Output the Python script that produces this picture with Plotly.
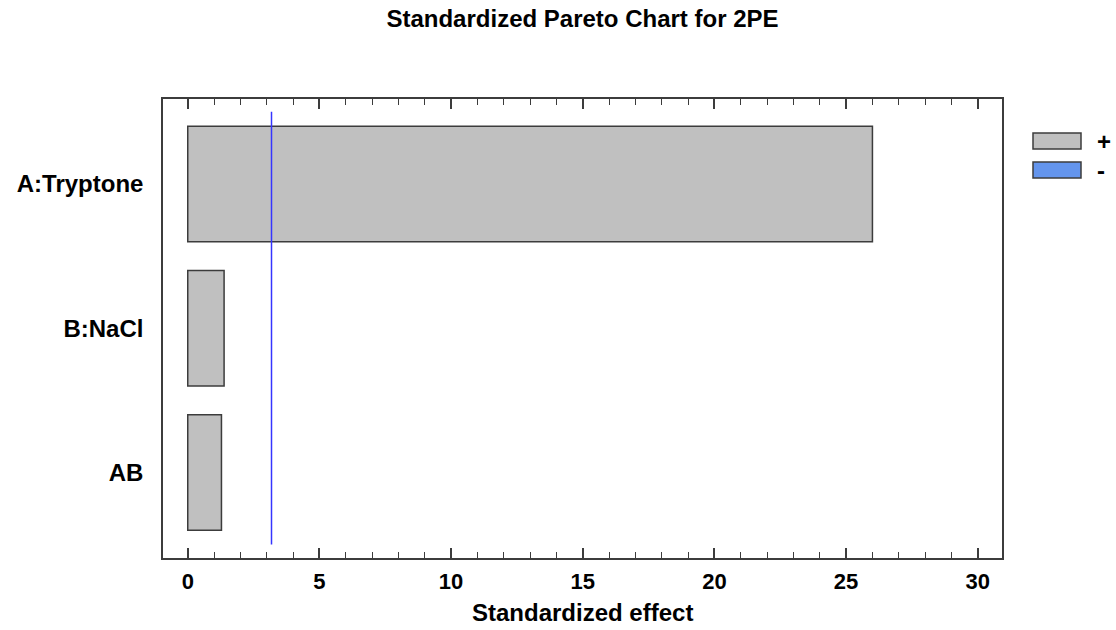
import plotly.graph_objects as go

# Standardized effects of the fitted model terms
terms = ["A:Tryptone", "B:NaCl", "AB"]
effects = [26.0, 1.38, 1.28]
t_critical = 3.18  # significance line (alpha = 0.05)

# Terms listed bottom-to-top on the category axis
axis_order = ["AB", "B:NaCl", "A:Tryptone"]

legend_labels = ["+", "-"]
legend_colors = ["#C0C0C0", "#6495ED"]

W, H = 1116, 630
L, R, T, B = 163, 1002, 99, 558  # plot frame in pixels
FONT = "Liberation Sans, Arial, sans-serif"
EDGE = "#3c3c3c"

pos_terms = [t for t, e in zip(terms, effects) if e >= 0]
pos_vals = [abs(e) for e in effects if e >= 0]
neg_terms = [t for t, e in zip(terms, effects) if e < 0]
neg_vals = [abs(e) for e in effects if e < 0]

fig = go.Figure()
fig.add_trace(go.Bar(
    x=pos_vals, y=pos_terms, orientation="h", name=legend_labels[0],
    width=0.8, marker=dict(color=legend_colors[0], line=dict(color=EDGE, width=1.5)),
    showlegend=False,
))
fig.add_trace(go.Bar(
    x=neg_vals, y=neg_terms, orientation="h", name=legend_labels[1],
    width=0.8, marker=dict(color=legend_colors[1], line=dict(color=EDGE, width=1.5)),
    showlegend=False,
))

# critical value line
fig.add_shape(type="line", xref="x", yref="y", x0=t_critical, x1=t_critical,
              y0=-0.5, y1=2.5, line=dict(color="#3535ff", width=1.5))


def px_x(p):
    return (p - L) / (R - L)


def px_y(p):
    return (B - p) / (B - T)


# hand-drawn legend with wide swatches
legend_rows = [(133, 149), (162, 178)]
for (y0, y1), lab, col in zip(legend_rows, legend_labels, legend_colors):
    fig.add_shape(type="rect", xref="paper", yref="paper",
                  x0=px_x(1033), x1=px_x(1081), y0=px_y(y1), y1=px_y(y0),
                  fillcolor=col, line=dict(color=EDGE, width=1.5))
    fig.add_annotation(xref="paper", yref="paper", x=px_x(1095), y=px_y((y0 + y1) / 2),
                       text=lab, showarrow=False, xanchor="left", yanchor="middle",
                       font=dict(family=FONT, size=24, color="black", weight="bold"))

# x-axis title
fig.add_annotation(xref="paper", yref="paper", x=0.5, y=px_y(612),
                   text="Standardized effect", showarrow=False,
                   xanchor="center", yanchor="middle",
                   font=dict(family=FONT, size=24, color="black", weight="bold"))

fig.update_layout(
    width=W, height=H,
    margin=dict(l=L, r=W - R, t=T, b=H - B, pad=0),
    paper_bgcolor="white", plot_bgcolor="white",
    barmode="overlay",
    title=dict(text="Standardized Pareto Chart for 2PE", x=0.5, xref="paper",
               y=1 - 19 / H, yref="container", xanchor="center", yanchor="middle",
               font=dict(family=FONT, size=24, color="black", weight="bold")),
    font=dict(family=FONT, color="black"),
)

fig.update_xaxes(
    range=[-0.94, 30.92], tickmode="array", tickvals=[0, 5, 10, 15, 20, 25, 30],
    ticks="inside", ticklen=10, tickwidth=1.5, tickcolor=EDGE,
    minor=dict(dtick=1, ticks="inside", ticklen=6, tickwidth=1.2, tickcolor=EDGE),
    showline=True, linecolor=EDGE, linewidth=1.5, mirror="ticks",
    showgrid=False, zeroline=False,
    tickfont=dict(family=FONT, size=22, color="black", weight="bold"),
    ticklabelstandoff=3,
)
fig.update_yaxes(
    type="category", categoryorder="array", categoryarray=axis_order,
    range=[-0.593, 2.589], ticks="",
    showline=True, linecolor=EDGE, linewidth=1.5, mirror=True,
    showgrid=False, zeroline=False,
    tickfont=dict(family=FONT, size=24, color="black", weight="bold"),
    ticklabelstandoff=13,
)

fig.write_html("out.html")
